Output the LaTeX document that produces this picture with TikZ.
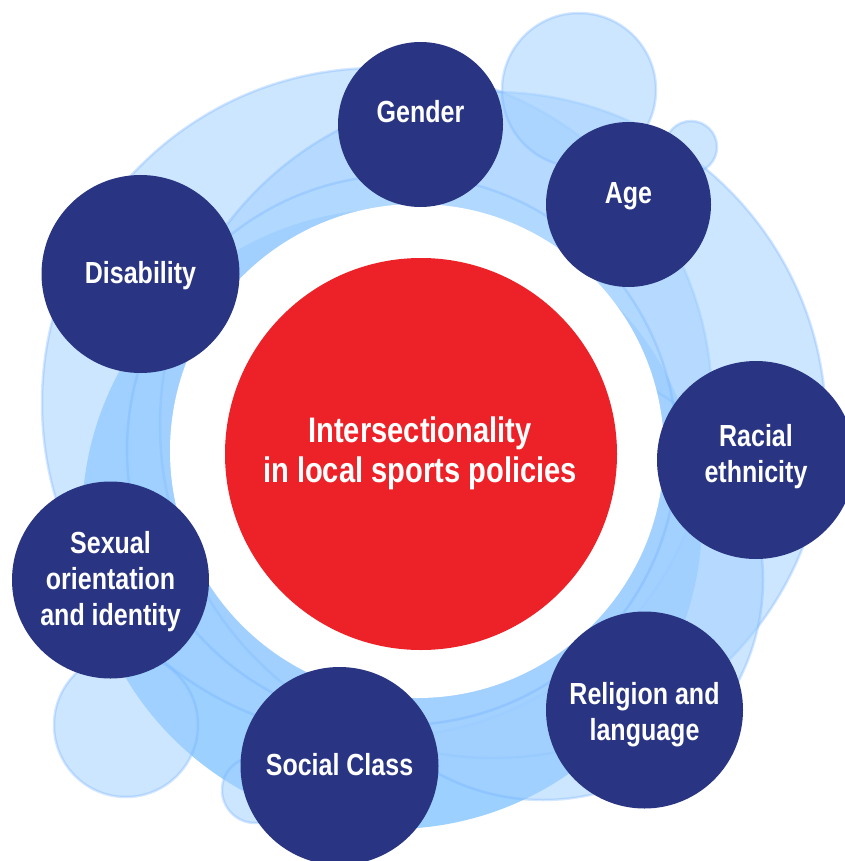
\documentclass[tikz,border=0pt]{standalone}
\usepackage{fontspec}
\setmainfont{Liberation Sans}[FakeStretch=0.82]
\definecolor{navy}{HTML}{293582}
\definecolor{redc}{HTML}{ED2128}
\definecolor{lb}{HTML}{A3D1FF}
\definecolor{sat}{HTML}{9BD0FF}
\definecolor{edgeb}{HTML}{6FAEFF}
\tikzset{
  halo/.style={fill=lb, fill opacity=0.55, draw=edgeb, draw opacity=0.3, line width=2.5pt},
  ringline/.style={fill=lb, fill opacity=0.25, draw=edgeb, draw opacity=0.3, line width=2.5pt},
  topic/.style={circle, fill=navy, inner sep=0pt, minimum size=#1},
  topic/.default=198pt,
  lbl/.style={text=white, align=center, inner sep=0pt, anchor=base,
    font=\bfseries\fontsize{30.5}{36}\selectfont},
  biglbl/.style={text=white, align=center, inner sep=0pt, anchor=base,
    font=\bfseries\fontsize{35.5}{40}\selectfont}
}
\begin{document}
\begin{tikzpicture}[x=1pt,y=-1pt]
\useasboundingbox (0,0) rectangle (844,861);
% background halo
\fill[sat] (392,519) circle[radius=310];
\path[halo] (377,403) circle[radius=335];
\path[halo] (493,425) circle[radius=333];
\path[halo] (543,580) circle[radius=220];
\path[ringline] (402,450) circle[radius=275];
\path[halo] (579,90) circle[radius=77];
\path[halo] (691,147) circle[radius=26];
\path[halo] (126,725) circle[radius=72];
\path[halo] (255,790) circle[radius=33];
% white disc
\fill[white] (417,451) circle[radius=247];
% centre
\node[circle, fill=redc, inner sep=0pt, minimum size=392pt] (core) at (421,454) {};
\node[biglbl] (core-t) at (420,482) {Intersectionality\\in local sports policies};
% topics
\node[topic=165pt] (gender) at (420.5,124.5) {};
\node[lbl] (gender-t) at (420.5,123) {Gender};
\node[topic=165pt] (age) at (628.5,204.5) {};
\node[lbl] (age-t) at (628.5,203) {Age};
\node[topic] (disab) at (140.5,274) {};
\node[lbl] (disab-t) at (140.5,283) {Disability};
\node[topic] (racial) at (756,460) {};
\node[lbl] (racial-t) at (756,482) {Racial\\ethnicity};
\node[topic=197pt] (relig) at (644.5,710) {};
\node[lbl] (relig-t) at (644.5,740) {Religion and\\language};
\node[topic] (social) at (339.5,766) {};
\node[lbl] (social-t) at (339.5,775) {Social Class};
\node[topic=197pt] (sexual) at (110.5,580) {};
\node[lbl] (sexual-t) at (110.5,625) {Sexual\\orientation\\and identity};
\end{tikzpicture}
\end{document}
